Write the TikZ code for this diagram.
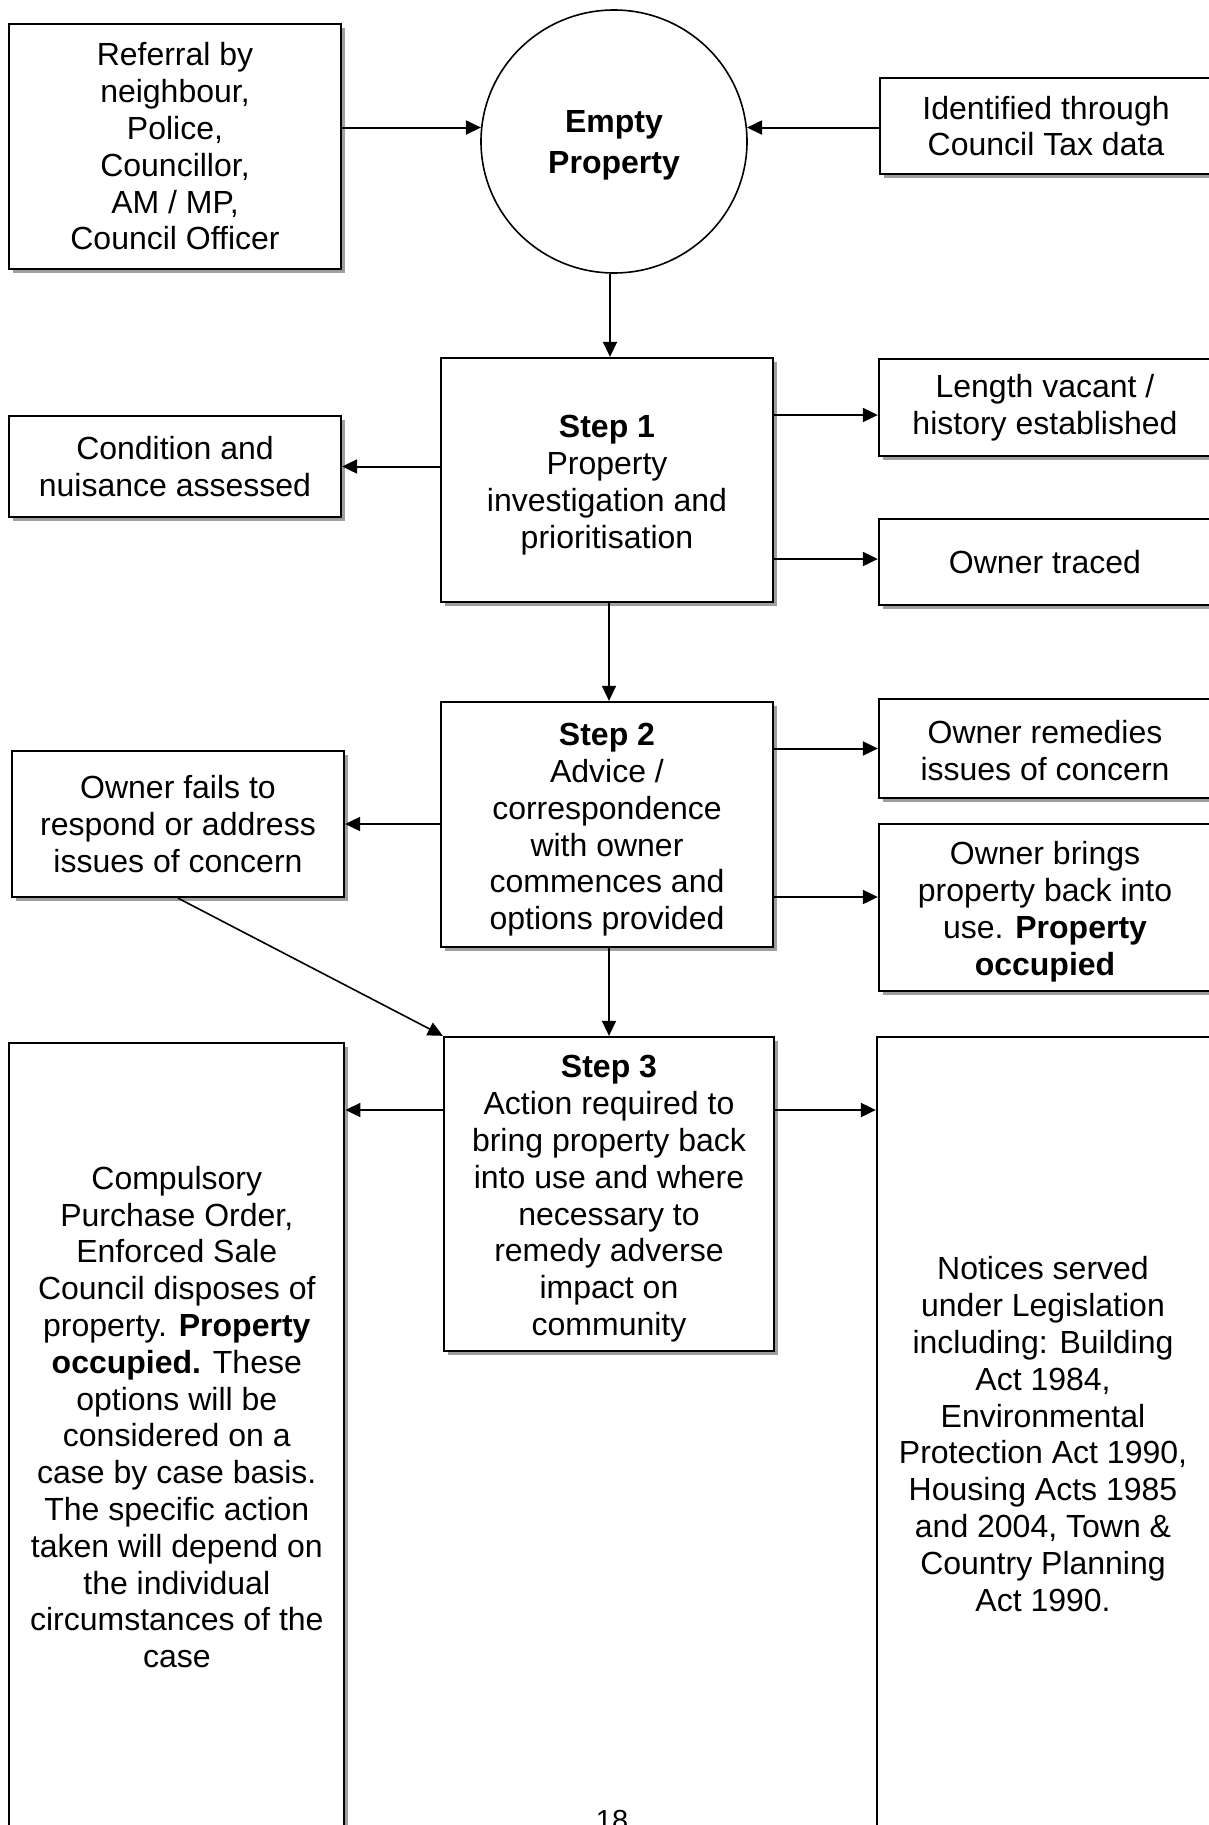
\documentclass[tikz,border=0pt]{standalone}
\usepackage{fontspec}
\setmainfont{Liberation Sans}
\usetikzlibrary{arrows.meta,shadows,shapes.geometric}
\newcommand{\myfs}{\fontsize{32pt}{36.8pt}\selectfont}
\newcommand{\myfsb}{\fontsize{32pt}{41pt}\selectfont\bfseries}
\newcommand{\toppad}[1]{\rule{0pt}{#1}}
\begin{document}
\begin{tikzpicture}[x=1pt,y=-1pt,
  every node/.style={font=\myfs, align=center, inner sep=0pt},
  box/.style={rectangle, draw=black, line width=2.3pt, fill=white,
    general shadow={fill=black!38, shadow xshift=4pt, shadow yshift=-4pt}},
  arr/.style={line width=2pt, -{Triangle[length=15pt,width=14pt]}},
  thinarr/.style={line width=1.6pt, -{Triangle[length=15pt,width=14pt]}},
]
\useasboundingbox (0,0) rectangle (1208,1825);

% top row
\node[box, minimum width=332pt, minimum height=245pt] (ref) at (175,146.5)
  {Referral by\\neighbour,\\Police,\\Councillor,\\AM / MP,\\Council Officer};
\node[ellipse, draw=black, line width=1.6pt, fill=white, minimum width=266pt,
  minimum height=263pt, font=\myfsb] (ep) at (614,141.5) {\toppad{30pt}Empty\\Property};
\node[box, minimum width=332pt, minimum height=96pt] (idt) at (1046,126)
  {Identified through\\Council Tax data};

% step 1 row
\node[box, minimum width=332pt, minimum height=244pt] (s1) at (607,480)
  {\toppad{33pt}\textbf{Step 1}\\Property\\investigation and\\prioritisation};
\node[box, minimum width=332pt, minimum height=101pt] (cond) at (175,466.5)
  {Condition and\\nuisance assessed};
\node[box, minimum width=332pt, minimum height=97pt] (len) at (1045,407.5)
  {Length vacant /\\history established};
\node[box, minimum width=332pt, minimum height=86pt] (trc) at (1045,562)
  {Owner traced};

% step 2 row
\node[box, minimum width=332pt, minimum height=245pt] (s2) at (607,824.5)
  {\toppad{33pt}\textbf{Step 2}\\Advice /\\correspondence\\with owner\\commences and\\options provided};
\node[box, minimum width=332pt, minimum height=99pt] (rem) at (1045,748.5)
  {\toppad{27pt}Owner remedies\\issues of concern};
\node[box, minimum width=332pt, minimum height=167pt] (brg) at (1045,907.5)
  {\toppad{32pt}Owner brings\\property back into\\use. \textbf{Property}\\\textbf{occupied}};
\node[box, minimum width=332pt, minimum height=146pt] (fail) at (178,824)
  {Owner fails to\\respond or address\\issues of concern};

% step 3 row
\node[box, minimum width=330pt, minimum height=314pt] (s3) at (609,1194)
  {\toppad{32pt}\textbf{Step 3}\\Action required to\\bring property back\\into use and where\\necessary to\\remedy adverse\\impact on\\community};
\node[box, minimum width=335pt, minimum height=860pt] (cpo) at (176.8,1473) {};
\node[box, minimum width=335pt, minimum height=863pt] (nsv) at (1044.5,1468.5) {};
\coordinate (cyL) at (0,1417);
\node (cpot) at (cpo.center |- cyL)
  {Compulsory\\Purchase Order,\\Enforced Sale\\Council disposes of\\property. \textbf{Property}\\\textbf{occupied.} These\\options will be\\considered on a\\case by case basis.\\The specific action\\taken will depend on\\the individual\\circumstances of the\\case};
\node (nsvt) at (1043,1434)
  {Notices served\\under Legislation\\including: Building\\Act 1984,\\Environmental\\Protection Act 1990,\\Housing Acts 1985\\and 2004, Town \&\\Country Planning\\Act 1990.};

\node[font=\fontsize{29pt}{34pt}\selectfont, anchor=north] (pg) at (612,1810) {18};

% connectors
\coordinate (yB) at (0,415);
\coordinate (yC) at (0,559);
\coordinate (yD) at (0,897);
\coordinate (yE) at (0,1110);
\draw[arr] (ref.east |- ep.174) -- (ep.174);
\draw[arr] (idt.west |- ep.6) -- (ep.6);
\draw[thinarr] ([xshift=-4pt]ep.south) -- ([xshift=-4pt]ep.south |- s1.north);
\draw[arr] (s1.west |- cond.east) -- (cond.east);
\draw[arr] (s1.east |- yB) -- (len.west |- yB);
\draw[arr] (s1.east |- yC) -- (trc.west |- yC);
\draw[thinarr] ([xshift=2pt]s1.south) -- ([xshift=2pt]s2.north);
\draw[arr] (s2.west |- fail.east) -- (fail.east);
\draw[arr] (s2.east |- rem.west) -- (rem.west);
\draw[arr] (s2.east |- yD) -- (brg.west |- yD);
\draw[thinarr] (fail.south) -- (s3.north west);
\draw[thinarr] ([xshift=2pt]s2.south) -- ([xshift=2pt]s2.south |- s3.north);
\draw[arr] (s3.west |- yE) -- (cpo.east |- yE);
\draw[arr] (s3.east |- yE) -- (nsv.west |- yE);
\end{tikzpicture}
\end{document}
